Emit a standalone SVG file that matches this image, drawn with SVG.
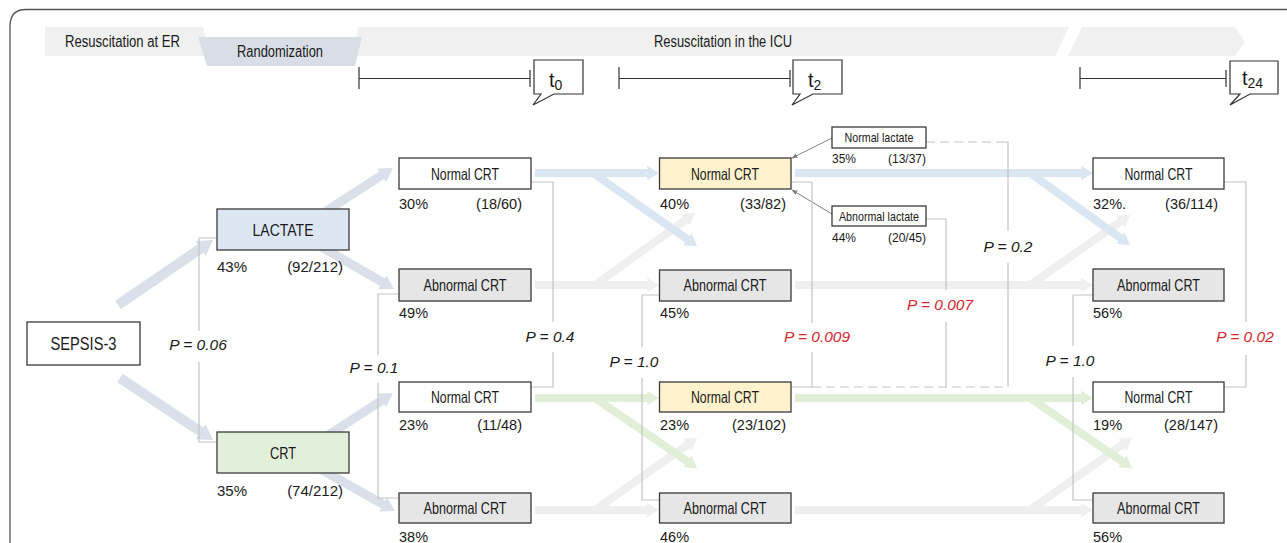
<svg xmlns="http://www.w3.org/2000/svg" width="1287" height="543" viewBox="0 0 1287 543">
  <style>
    .lbl { font-family: "Liberation Sans Narrow", "Liberation Sans", Arial, sans-serif; fill: #1a1a1a; }
    .num { font-family: "Liberation Sans", Arial, sans-serif; fill: #1a1a1a; }
    .n14 { font-size: 14.5px; }
    .n15 { font-size: 15px; }
    .nsm { font-size: 12px; }
    .tlabel { font-size: 20px; }
    .pv { font-family: "Liberation Sans", Arial, sans-serif; font-style: italic; font-size: 15.5px; fill: #1a1a1a; text-anchor: middle; }
    .pv.sig { fill: #d8252b; }
    .box { stroke: #3a3a3a; stroke-width: 1.3; }
    .white { fill: #ffffff; }
    .grey { fill: #e6e6e6; }
    .yellow { fill: #fff2cc; }
    .blue { fill: #dde7f3; }
    .green { fill: #e2efda; }
    .mid { text-anchor: middle; }
    .end { text-anchor: end; }
    .flow { fill: none; stroke-linecap: butt; }
    .f-slate { stroke: #d9e0ea; }
    .f-blue { stroke: #dbe6f3; }
    .f-grey { stroke: #efefef; }
    .f-green { stroke: #e1eed8; }
    .bracket { fill: none; stroke: #c4c4c4; stroke-width: 1.2; stroke-linejoin: round; }
    .dash { stroke-dasharray: 9 5; }
    .tl { fill: none; stroke: #333333; stroke-width: 1.2; }
    .callout { fill: #ffffff; stroke: #333333; stroke-width: 1.2; }
    .band { fill: #f0f0f0; }
  </style>
  <defs>
    <marker id="ah-slate" viewBox="0 0 15 18" refX="1" refY="9" markerUnits="strokeWidth" markerWidth="1.5" markerHeight="1.8" orient="auto">
      <path d="M0,0 L15,9 L0,18 Z" fill="#d9e0ea"/>
    </marker>
    <marker id="ah-blue" viewBox="0 0 15 18" refX="1" refY="9" markerUnits="strokeWidth" markerWidth="1.5" markerHeight="1.8" orient="auto">
      <path d="M0,0 L15,9 L0,18 Z" fill="#dbe6f3"/>
    </marker>
    <marker id="ah-grey" viewBox="0 0 15 18" refX="1" refY="9" markerUnits="strokeWidth" markerWidth="1.5" markerHeight="1.8" orient="auto">
      <path d="M0,0 L15,9 L0,18 Z" fill="#efefef"/>
    </marker>
    <marker id="ah-green" viewBox="0 0 15 18" refX="1" refY="9" markerUnits="strokeWidth" markerWidth="1.5" markerHeight="1.8" orient="auto">
      <path d="M0,0 L15,9 L0,18 Z" fill="#e1eed8"/>
    </marker>
    <marker id="ah-thin" viewBox="0 0 10 10" refX="9" refY="5" markerUnits="userSpaceOnUse" markerWidth="6" markerHeight="6" orient="auto">
      <path d="M0,1 L10,5 L0,9 Z" fill="#808080"/>
    </marker>
  </defs>

  <rect width="1287" height="543" fill="#ffffff"/>

  <!-- outer frame, open to the right and bottom -->
  <path d="M10,560 V26 Q10,9.5 26,9.5 H1300" fill="none" stroke="#555555" stroke-width="1.3"/>

  <!-- phase banner -->
  <g id="banner">
    <polygon class="band" points="45,27 203,27 210,56 45,56"/>
    <polygon class="band" points="358,27 1069,27 1055,56 354,56"/>
    <polygon class="band" points="1082,27 1235,27 1245,42 1235,56 1068,56"/>
    <polygon points="198,37 362,37 355,66 207,66" fill="#d9dee6"/>
    <text class="lbl" x="65" y="47" font-size="16" textLength="115" lengthAdjust="spacingAndGlyphs">Resuscitation at ER</text>
    <text class="lbl mid" x="280" y="57" font-size="16" textLength="86" lengthAdjust="spacingAndGlyphs">Randomization</text>
    <text class="lbl mid" x="723" y="47" font-size="16" textLength="138" lengthAdjust="spacingAndGlyphs">Resuscitation in the ICU</text>
  </g>

  <!-- time points -->
  <g id="timeline-t0">
    <path class="tl" d="M359,78.5 H530 M359,67 V89 M530,70 V87"/>
    <path class="callout" d="M534,60 H583 V94 H554 L533,105 L541,94 H534 Z"/>
    <text class="num tlabel" x="549" y="87">t<tspan font-size="14" dy="3">0</tspan></text>
  </g>
  <g id="timeline-t2">
    <path class="tl" d="M619,78.5 H790 M619,67 V89 M790,70 V87"/>
    <path class="callout" d="M793,60 H842 V94 H813 L792,105 L800,94 H793 Z"/>
    <text class="num tlabel" x="808" y="87">t<tspan font-size="14" dy="3">2</tspan></text>
  </g>
  <g id="timeline-t24">
    <path class="tl" d="M1080,78.5 H1226 M1080,67 V89 M1226,70 V87"/>
    <path class="callout" d="M1230,61 H1278 V94 H1250 L1230,105 L1240,94 H1230 Z"/>
    <text class="num tlabel" x="1242" y="85">t<tspan font-size="14" dy="3">24</tspan></text>
  </g>

  <!-- connectors: flow arrows and comparison brackets -->
  <g id="connectors">
    <!-- randomization -->
    <line class="flow f-slate" stroke-width="10" x1="118" y1="305" x2="201.4" y2="247.9" marker-end="url(#ah-slate)"/>
    <line class="flow f-slate" stroke-width="10" x1="120" y1="378" x2="201.4" y2="432.2" marker-end="url(#ah-slate)"/>
    <!-- arms to t0 -->
    <line class="flow f-slate" stroke-width="9" x1="300" y1="228" x2="382.4" y2="174.8" marker-end="url(#ah-slate)"/>
    <line class="flow f-slate" stroke-width="9" x1="320" y1="246" x2="383.1" y2="282.7" marker-end="url(#ah-slate)"/>
    <line class="flow f-slate" stroke-width="9" x1="320" y1="440.5" x2="382.4" y2="399.9" marker-end="url(#ah-slate)"/>
    <line class="flow f-slate" stroke-width="9" x1="315" y1="466" x2="384" y2="504.9" marker-end="url(#ah-slate)"/>

    <!-- t0 to t2 -->
    <line class="flow f-grey" stroke-width="8" x1="535" y1="285" x2="648" y2="285" marker-end="url(#ah-grey)"/>
    <line class="flow f-grey" stroke-width="8" x1="595" y1="285" x2="686.1" y2="219.4" marker-end="url(#ah-grey)"/>
    <line class="flow f-blue" stroke-width="8" x1="535" y1="173" x2="648" y2="173" marker-end="url(#ah-blue)"/>
    <line class="flow f-blue" stroke-width="8" x1="593" y1="173" x2="688" y2="239.7" marker-end="url(#ah-blue)"/>
    <line class="flow f-grey" stroke-width="8" x1="535" y1="510" x2="648" y2="510" marker-end="url(#ah-grey)"/>
    <line class="flow f-grey" stroke-width="8" x1="595" y1="510" x2="688" y2="444.3" marker-end="url(#ah-grey)"/>
    <line class="flow f-green" stroke-width="8" x1="535" y1="398" x2="648" y2="398" marker-end="url(#ah-green)"/>
    <line class="flow f-green" stroke-width="8" x1="595" y1="398" x2="687.9" y2="461.8" marker-end="url(#ah-green)"/>

    <!-- t2 to t24 -->
    <line class="flow f-grey" stroke-width="8" x1="795" y1="285" x2="1082" y2="285" marker-end="url(#ah-grey)"/>
    <line class="flow f-grey" stroke-width="8" x1="1030" y1="285" x2="1121" y2="221.3" marker-end="url(#ah-grey)"/>
    <line class="flow f-blue" stroke-width="8" x1="795" y1="173" x2="1082" y2="173" marker-end="url(#ah-blue)"/>
    <line class="flow f-blue" stroke-width="8" x1="1030" y1="173" x2="1121.1" y2="238.6" marker-end="url(#ah-blue)"/>
    <line class="flow f-grey" stroke-width="8" x1="795" y1="510" x2="1082" y2="510" marker-end="url(#ah-grey)"/>
    <line class="flow f-grey" stroke-width="8" x1="1030" y1="510" x2="1123" y2="444.3" marker-end="url(#ah-grey)"/>
    <line class="flow f-green" stroke-width="8" x1="795" y1="398" x2="1082" y2="398" marker-end="url(#ah-green)"/>
    <line class="flow f-green" stroke-width="8" x1="1030" y1="398" x2="1122.9" y2="461.8" marker-end="url(#ah-green)"/>

    <!-- lactate subgroups pointing at the t2 normal-CRT box -->
    <line x1="832" y1="138" x2="792" y2="158" stroke="#808080" stroke-width="1" marker-end="url(#ah-thin)"/>
    <line x1="832" y1="214" x2="792" y2="190" stroke="#808080" stroke-width="1" marker-end="url(#ah-thin)"/>

    <!-- comparison brackets -->
    <path class="bracket" d="M216,238 H199 V331 M199,362 V442 H216"/>
    <path class="bracket" d="M399,294 H378 V355 M378,383 V498 H399"/>
    <path class="bracket" d="M531,182 H553 V322 M553,352 V387 H531"/>
    <path class="bracket" d="M659,295 H642 V347 M642,378 V500 H659"/>
    <path class="bracket" d="M791,182 H812 V323 M812,352 V387 H791"/>
    <path class="bracket dash" d="M812,387 H1008"/>
    <path class="bracket" d="M926,219 H946 V290 M946,322 V387"/>
    <path class="bracket dash" d="M926,142 H1004"/>
    <path class="bracket" d="M1004,142 H1008 V231 M1008,263 V387"/>
    <path class="bracket" d="M1093,295 H1073 V346 M1073,377 V500 H1093"/>
    <path class="bracket" d="M1224,182 H1246 V322 M1246,355 V387 H1224"/>

    <text class="pv" x="198" y="350">P = 0.06</text>
    <text class="pv" x="374" y="373">P = 0.1</text>
    <text class="pv" x="550" y="342">P = 0.4</text>
    <text class="pv" x="634" y="367">P = 1.0</text>
    <text class="pv sig" x="817" y="342">P = 0.009</text>
    <text class="pv sig" x="940" y="310">P = 0.007</text>
    <text class="pv" x="1008" y="252">P = 0.2</text>
    <text class="pv" x="1070" y="366">P = 1.0</text>
    <text class="pv sig" x="1245" y="342">P = 0.02</text>
  </g>

  <!-- entry -->
  <g id="sepsis">
    <rect class="box white" x="27" y="322" width="113" height="43"/>
    <text class="lbl mid" x="83.5" y="350" font-size="17.5" textLength="66" lengthAdjust="spacingAndGlyphs">SEPSIS-3</text>
  </g>

  <!-- randomized arms -->
  <g id="arm-lactate">
    <rect class="box blue" x="217" y="209" width="132" height="41"/>
    <text class="lbl mid" x="283" y="236" font-size="17" textLength="61" lengthAdjust="spacingAndGlyphs">LACTATE</text>
    <text class="num n15" x="217" y="272">43%</text>
    <text class="num n15 end" x="343" y="272">(92/212)</text>
  </g>
  <g id="arm-crt">
    <rect class="box green" x="217" y="432" width="132" height="41"/>
    <text class="lbl mid" x="283" y="459" font-size="17" textLength="26" lengthAdjust="spacingAndGlyphs">CRT</text>
    <text class="num n15" x="217" y="496">35%</text>
    <text class="num n15 end" x="343" y="496">(74/212)</text>
  </g>

  <!-- t0 -->
  <g id="t0-lactate-normal">
    <rect class="box white" x="399" y="158" width="132" height="31"/>
    <text class="lbl mid" x="465" y="179.5" font-size="16.5" textLength="68" lengthAdjust="spacingAndGlyphs">Normal CRT</text>
    <text class="num n14" x="399" y="209">30%</text>
    <text class="num n14 end" x="522" y="209">(18/60)</text>
  </g>
  <g id="t0-lactate-abnormal">
    <rect class="box grey" x="399" y="269" width="132" height="32"/>
    <text class="lbl mid" x="465" y="291" font-size="16.5" textLength="83" lengthAdjust="spacingAndGlyphs">Abnormal CRT</text>
    <text class="num n14" x="399" y="318">49%</text>
  </g>
  <g id="t0-crt-normal">
    <rect class="box white" x="399" y="382" width="132" height="30"/>
    <text class="lbl mid" x="465" y="403" font-size="16.5" textLength="68" lengthAdjust="spacingAndGlyphs">Normal CRT</text>
    <text class="num n14" x="399" y="430">23%</text>
    <text class="num n14 end" x="522" y="430">(11/48)</text>
  </g>
  <g id="t0-crt-abnormal">
    <rect class="box grey" x="399" y="493" width="132" height="30"/>
    <text class="lbl mid" x="465" y="514" font-size="16.5" textLength="83" lengthAdjust="spacingAndGlyphs">Abnormal CRT</text>
    <text class="num n14" x="399" y="542">38%</text>
  </g>

  <!-- t2 -->
  <g id="t2-lactate-normal">
    <rect class="box yellow" x="659.5" y="158" width="131.5" height="31"/>
    <text class="lbl mid" x="725" y="179.5" font-size="16.5" textLength="68" lengthAdjust="spacingAndGlyphs">Normal CRT</text>
    <text class="num n14" x="660" y="209">40%</text>
    <text class="num n14 end" x="786" y="209">(33/82)</text>
  </g>
  <g id="t2-lactate-abnormal">
    <rect class="box grey" x="659.5" y="270" width="131.5" height="31"/>
    <text class="lbl mid" x="725" y="291" font-size="16.5" textLength="83" lengthAdjust="spacingAndGlyphs">Abnormal CRT</text>
    <text class="num n14" x="660" y="318">45%</text>
  </g>
  <g id="t2-crt-normal">
    <rect class="box yellow" x="659.5" y="382" width="131.5" height="30"/>
    <text class="lbl mid" x="725" y="403" font-size="16.5" textLength="68" lengthAdjust="spacingAndGlyphs">Normal CRT</text>
    <text class="num n14" x="660" y="430">23%</text>
    <text class="num n14 end" x="786" y="430">(23/102)</text>
  </g>
  <g id="t2-crt-abnormal">
    <rect class="box grey" x="659.5" y="493" width="131.5" height="30"/>
    <text class="lbl mid" x="725" y="514" font-size="16.5" textLength="83" lengthAdjust="spacingAndGlyphs">Abnormal CRT</text>
    <text class="num n14" x="660" y="542">46%</text>
  </g>

  <!-- lactate subgroups within the t2 normal-CRT group -->
  <g id="normal-lactate">
    <rect class="box white" x="832" y="127" width="94" height="21" stroke-width="1.2"/>
    <text class="lbl mid" x="879" y="142" font-size="13.5" textLength="69" lengthAdjust="spacingAndGlyphs">Normal lactate</text>
    <text class="num nsm" x="832" y="163">35%</text>
    <text class="num nsm end" x="926" y="163">(13/37)</text>
  </g>
  <g id="abnormal-lactate">
    <rect class="box white" x="832" y="206" width="94" height="20" stroke-width="1.2"/>
    <text class="lbl mid" x="879" y="220.5" font-size="13.5" textLength="80" lengthAdjust="spacingAndGlyphs">Abnormal lactate</text>
    <text class="num nsm" x="832" y="242">44%</text>
    <text class="num nsm end" x="926" y="242">(20/45)</text>
  </g>

  <!-- t24 -->
  <g id="t24-lactate-normal">
    <rect class="box white" x="1093" y="158" width="131" height="31"/>
    <text class="lbl mid" x="1158.5" y="179.5" font-size="16.5" textLength="68" lengthAdjust="spacingAndGlyphs">Normal CRT</text>
    <text class="num n14" x="1093" y="209">32%.</text>
    <text class="num n14 end" x="1218" y="209">(36/114)</text>
  </g>
  <g id="t24-lactate-abnormal">
    <rect class="box grey" x="1093" y="269" width="131" height="32"/>
    <text class="lbl mid" x="1158.5" y="291" font-size="16.5" textLength="83" lengthAdjust="spacingAndGlyphs">Abnormal CRT</text>
    <text class="num n14" x="1093" y="318">56%</text>
  </g>
  <g id="t24-crt-normal">
    <rect class="box white" x="1093" y="382" width="131" height="30"/>
    <text class="lbl mid" x="1158.5" y="403" font-size="16.5" textLength="68" lengthAdjust="spacingAndGlyphs">Normal CRT</text>
    <text class="num n14" x="1093" y="430">19%</text>
    <text class="num n14 end" x="1218" y="430">(28/147)</text>
  </g>
  <g id="t24-crt-abnormal">
    <rect class="box grey" x="1093" y="493" width="131" height="30"/>
    <text class="lbl mid" x="1158.5" y="514" font-size="16.5" textLength="83" lengthAdjust="spacingAndGlyphs">Abnormal CRT</text>
    <text class="num n14" x="1093" y="542">56%</text>
  </g>
</svg>
